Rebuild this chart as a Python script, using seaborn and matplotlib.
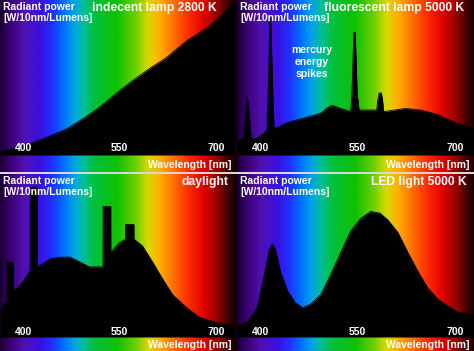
import numpy as np
import pandas as pd
import matplotlib.pyplot as plt
from matplotlib.colors import LinearSegmentedColormap
import seaborn as sns

sns.set_style("white")
plt.rcParams["font.family"] = ["Liberation Sans", "DejaVu Sans"]

# wavelength [nm] / relative radiant power
incand_wl = [364, 390, 415, 440, 468, 495, 519, 545, 570, 597, 623, 643, 655, 674, 688, 700, 712, 725, 729]
incand_pw = [0.02, 0.05, 0.08, 0.12, 0.17, 0.24, 0.31, 0.40, 0.48, 0.56, 0.63, 0.70, 0.74, 0.79, 0.83, 0.87, 0.92, 0.97, 0.99]

fluor_wl = [364, 374, 377, 380, 383, 386, 395, 405, 410, 413, 414.5, 416, 418, 421, 442, 468, 493, 505, 511,
            524, 539, 541, 544, 546, 549, 552, 568, 579, 581, 583, 586, 588, 590, 623, 647, 674, 700, 729]
fluor_pw = [0.10, 0.10, 0.25, 0.37, 0.25, 0.10, 0.11, 0.14, 0.16, 0.55, 0.88, 0.88, 0.55, 0.17, 0.21, 0.24, 0.27, 0.31, 0.32,
            0.30, 0.28, 0.40, 0.79, 0.79, 0.40, 0.29, 0.29, 0.29, 0.36, 0.40, 0.40, 0.36, 0.28, 0.30, 0.29, 0.26, 0.21, 0.17]

day_wl = [364, 370, 375, 375.1, 384.5, 384.6, 391, 400, 411, 411.1, 422, 422.1, 442, 457, 473, 488, 503, 519,
          524, 524.1, 536, 536.1, 550, 559, 559.1, 572, 572.1, 585, 601, 616, 632, 654, 674, 700, 729]
day_pw = [0.15, 0.20, 0.22, 0.46, 0.46, 0.29, 0.30, 0.34, 0.41, 0.92, 0.92, 0.43, 0.48, 0.49, 0.49, 0.46, 0.43, 0.43,
          0.43, 0.80, 0.80, 0.52, 0.58, 0.60, 0.69, 0.69, 0.60, 0.56, 0.46, 0.36, 0.26, 0.18, 0.12, 0.09, 0.07]

led_wl = [364, 380, 395, 406, 414, 418, 423, 431, 442, 454, 465, 477, 493, 508, 524, 539, 555, 570,
          584, 596, 612, 627, 643, 658, 674, 689, 705, 729]
led_pw = [0.07, 0.09, 0.18, 0.38, 0.54, 0.57, 0.54, 0.40, 0.28, 0.21, 0.18, 0.20, 0.26, 0.38, 0.52, 0.65, 0.73, 0.77,
          0.76, 0.72, 0.64, 0.52, 0.40, 0.30, 0.23, 0.19, 0.15, 0.14]

titles = ["indecent lamp 2800 K", "fluorescent lamp 5000 K", "daylight", "LED light 5000 K"]
ticks = [400, 550, 700]

spectrum = LinearSegmentedColormap.from_list("spectrum", [
    (0.00, "#1a0033"), (0.04, "#3a0070"), (0.10, "#5010b0"), (0.17, "#3a10e0"),
    (0.22, "#2030ff"), (0.27, "#0070ff"), (0.32, "#00a8e0"), (0.36, "#00c090"),
    (0.40, "#00c040"), (0.50, "#10c000"), (0.58, "#70d000"), (0.63, "#d8d800"),
    (0.68, "#ffb000"), (0.74, "#ff7000"), (0.80, "#ff3000"), (0.87, "#e00000"),
    (0.93, "#900000"), (0.98, "#300000"), (1.00, "#200000")])

W, H = 474, 351
fig = plt.figure(figsize=(W / 100, H / 100), dpi=100, facecolor="#d8d8d8")

# panel boxes in pixels: left, top, width, height, baseline offset from top
boxes = [(0, 0, 235, 172, 155), (237, 0, 237, 172, 155),
         (0, 174, 235, 177, 163), (237, 174, 237, 177, 163)]
data = [(incand_wl, incand_pw), (fluor_wl, fluor_pw), (day_wl, day_pw), (led_wl, led_pw)]
title_x = [217, 227, 228, 230]
xmin, xmax = 364, 729

for i, ((l, t, w, h, base), (wl, pw)) in enumerate(zip(boxes, data)):
    ax = fig.add_axes([l / W, 1 - (t + h) / H, w / W, h / H])
    strip = (h - base) / base
    ax.imshow(np.linspace(0, 1, 512)[None, :], cmap=spectrum, aspect="auto",
              extent=[xmin, xmax, -strip, 1], interpolation="bilinear", zorder=0)
    df = pd.DataFrame({"wl": wl, "power": pw})
    ax.fill_between(df["wl"], 0, df["power"], color="black", lw=0, zorder=1)
    sns.lineplot(data=df, x="wl", y="power", color="black", lw=0.6, ax=ax, zorder=2)
    ax.set_xlim(xmin, xmax)
    ax.set_ylim(-strip, 1)
    ax.axis("off")

    def fy(px):
        return 1 - px / h

    txt = dict(color="white", fontweight="bold", transform=ax.transAxes)
    ax.text(3 / w, fy(2), "Radiant power\n[W/10nm/Lumens]", fontsize=7.5, va="top",
            ha="left", linespacing=1.15, **txt)
    ax.text(title_x[i] / w, fy(2), titles[i], fontsize=8.7, va="top", ha="right", **txt)
    ax.text(232 / w, fy((base + h) / 2 + 1), "Wavelength [nm]", fontsize=7.5,
            va="center", ha="right", **txt)
    tick_y = (7 if t == 0 else 5) / base
    for tk in ticks:
        ax.text(tk, tick_y, str(tk), color="white", fontweight="bold", fontsize=7.5,
                ha="center", va="center")
    if i == 1:
        ax.text(75 / w, fy(62), "mercury\nenergy\nspikes", fontsize=7.5, ha="center",
                va="center", linespacing=1.25, **txt)

# thin dark divider between the columns, light one between the rows
fig.add_artist(plt.Rectangle((235 / W, 0), 2 / W, 1, transform=fig.transFigure,
                             color="#100008", lw=0))
fig.add_artist(plt.Rectangle((0, 1 - 174 / H), 1, 2 / H, transform=fig.transFigure,
                             color="#d8d8d8", lw=0))

fig.savefig("out.png", dpi=100, facecolor=fig.get_facecolor())
